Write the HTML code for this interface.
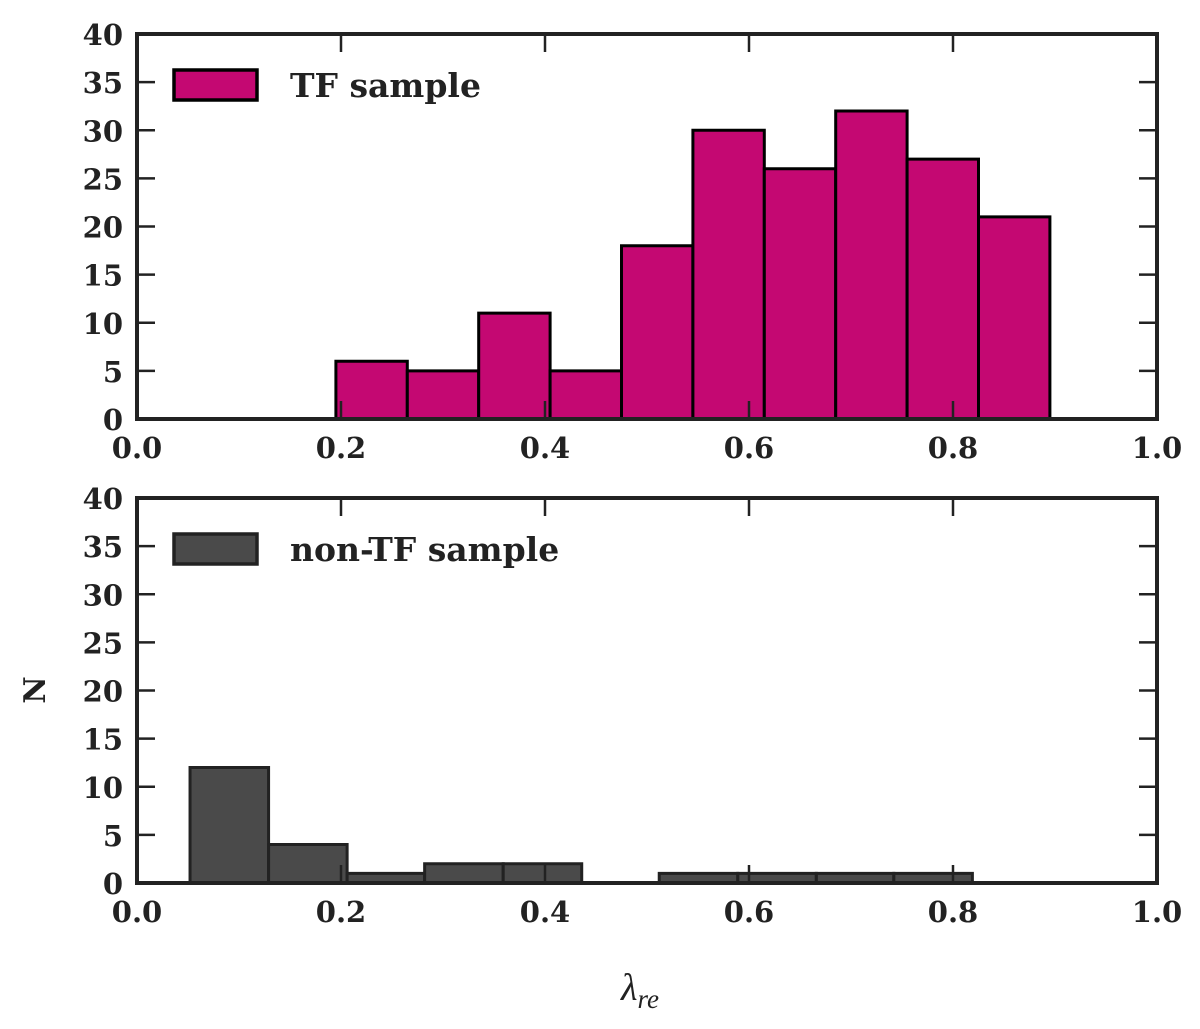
<!DOCTYPE html>
<html><head><meta charset="utf-8"><style>
body{margin:0;background:#fff}
svg text{font-family:"DejaVu Serif","Liberation Serif",serif;font-weight:bold;fill:#222}
</style></head><body>
<svg id="c" width="1200" height="1024" xmlns="http://www.w3.org/2000/svg"></svg>
<script>
const topEdges=[0.195,0.265,0.335,0.405,0.475,0.545,0.615,0.685,0.755,0.825,0.895];
const topCounts=[6,5,11,5,18,30,26,32,27,21];
const botEdges=[0.052,0.129,0.206,0.282,0.359,0.436,0.512,0.589,0.666,0.742,0.819];
const botCounts=[12,4,1,2,2,0,1,1,1,1];
const xTicks=[0,0.2,0.4,0.6,0.8,1.0];
const xTickLabels=["0.0","0.2","0.4","0.6","0.8","1.0"];
const yTicks=[0,5,10,15,20,25,30,35,40];
const NS="http://www.w3.org/2000/svg";
const svg=document.getElementById('c');
function mk(tag,attrs,parent){const e=document.createElementNS(NS,tag);for(const k in attrs)e.setAttribute(k,attrs[k]);(parent||svg).appendChild(e);return e;}
const L=137,R=1157;
function xs(v){return L+(R-L)*v;}
function panel(name,top,bottom,edges,counts,fill,stroke,label){
  const g=mk('g',{});
  
  
  const ys=v=>bottom-(bottom-top)*v/40;
  for(let i=0;i<counts.length;i++){
    if(counts[i]<=0)continue;
    const r=mk('rect',{x:xs(edges[i]),y:ys(counts[i]),width:xs(edges[i+1])-xs(edges[i]),height:ys(0)-ys(counts[i]),fill:fill,stroke:stroke,'stroke-width':3},g);
    
    
  }
  xTicks.forEach((t,i)=>{
    mk('line',{x1:xs(t),x2:xs(t),y1:bottom,y2:bottom-18,stroke:'#222','stroke-width':2.5},g);
    mk('line',{x1:xs(t),x2:xs(t),y1:top,y2:top+18,stroke:'#222','stroke-width':2.5},g);
    const tx=mk('text',{x:xs(t),y:bottom+39,'text-anchor':'middle','font-size':29},g);
    tx.textContent=xTickLabels[i];
    
    
  });
  yTicks.forEach(t=>{
    mk('line',{x1:L,x2:L+18,y1:ys(t),y2:ys(t),stroke:'#222','stroke-width':2.5},g);
    mk('line',{x1:R,x2:R-18,y1:ys(t),y2:ys(t),stroke:'#222','stroke-width':2.5},g);
    const tx=mk('text',{x:L-14,y:ys(t)+11,'text-anchor':'end','font-size':29},g);
    tx.textContent=t;
    
    
  });
  mk('rect',{x:L,y:top,width:R-L,height:bottom-top,fill:'none',stroke:'#222','stroke-width':4},g);
  const lg=mk('g',{},g);
  
  
  mk('rect',{x:174,y:top+36,width:83,height:30,fill:fill,stroke:stroke,'stroke-width':3.5},lg);
  const lt=mk('text',{x:290,y:top+63,'font-size':33},lg);
  lt.textContent=label;
}
panel('top-panel',34,419,topEdges,topCounts,'#c40872','#000','TF sample');
panel('bottom-panel',498,883,botEdges,botCounts,'#4a4a4a','#222','non-TF sample');
const yl=mk('text',{x:0,y:0,'font-size':30,'text-anchor':'middle',transform:'translate(45,690) rotate(-90)'});
yl.textContent='N';


const xl=mk('text',{x:640,y:1000,'font-size':38,'text-anchor':'middle','font-style':'italic',style:'font-family:"Liberation Serif",serif;font-weight:normal'});
xl.innerHTML='λ<tspan font-size="27" dy="8">re</tspan>';


</script>
</body></html>
